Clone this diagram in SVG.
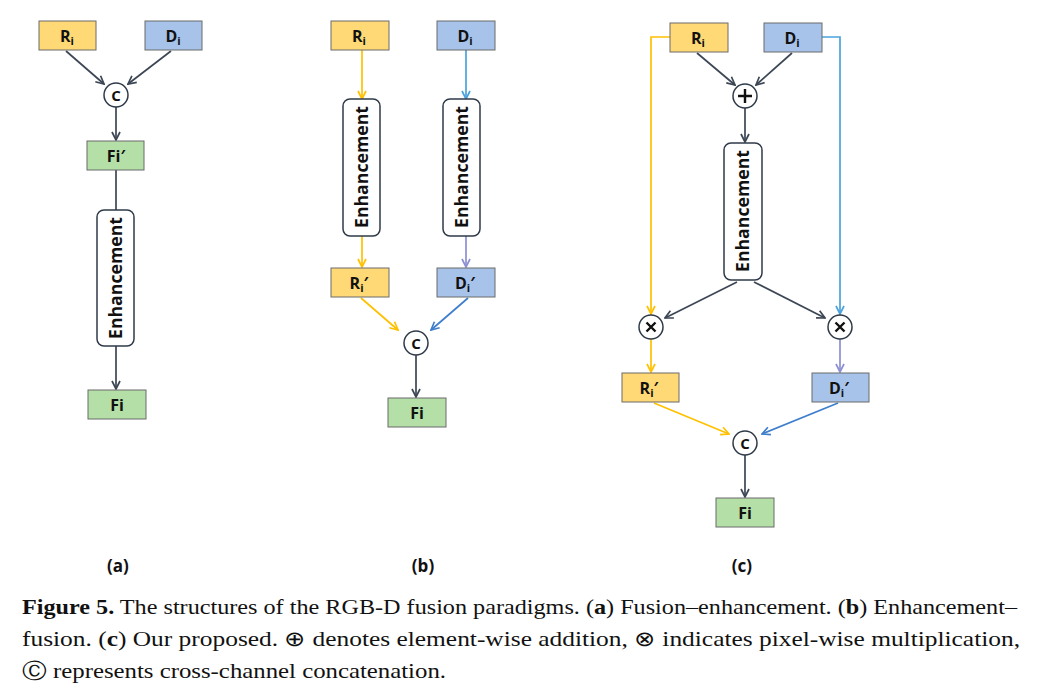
<svg xmlns="http://www.w3.org/2000/svg" width="1040" height="694" viewBox="0 0 1040 694">
<defs>
<marker id="ad" viewBox="0 0 10 10" refX="9" refY="5" markerWidth="10" markerHeight="10" markerUnits="userSpaceOnUse" orient="auto"><path d="M1,1 L9,5 L1,9" fill="none" stroke="#3c4654" stroke-width="1.7"/></marker>
<marker id="ay" viewBox="0 0 10 10" refX="9" refY="5" markerWidth="10" markerHeight="10" markerUnits="userSpaceOnUse" orient="auto"><path d="M1,1 L9,5 L1,9" fill="none" stroke="#ffc000" stroke-width="1.7"/></marker>
<marker id="ab" viewBox="0 0 10 10" refX="9" refY="5" markerWidth="10" markerHeight="10" markerUnits="userSpaceOnUse" orient="auto"><path d="M1,1 L9,5 L1,9" fill="none" stroke="#4aa3dc" stroke-width="1.7"/></marker>
<marker id="ab2" viewBox="0 0 10 10" refX="9" refY="5" markerWidth="10" markerHeight="10" markerUnits="userSpaceOnUse" orient="auto"><path d="M1,1 L9,5 L1,9" fill="none" stroke="#3f7ecb" stroke-width="1.7"/></marker>
<marker id="ap" viewBox="0 0 10 10" refX="9" refY="5" markerWidth="10" markerHeight="10" markerUnits="userSpaceOnUse" orient="auto"><path d="M1,1 L9,5 L1,9" fill="none" stroke="#8c8fd2" stroke-width="1.7"/></marker>
</defs>
<style>
.y{fill:#ffd975;stroke:#6b6b6b;stroke-width:1}
.b{fill:#a7c3ea;stroke:#6b6b6b;stroke-width:1}
.g{fill:#b4dfa7;stroke:#6b6b6b;stroke-width:1}
.e{fill:#fff;stroke:#2f3a48;stroke-width:1.5}
.c{fill:#fff;stroke:#2f3a48;stroke-width:1.5}
.t{font-family:"Open Sans","Liberation Sans",sans-serif;font-weight:bold;font-size:16px;fill:#111;text-anchor:middle}
.s{font-size:11px}
.et{font-family:"Open Sans","Liberation Sans",sans-serif;font-weight:bold;font-size:17px;fill:#111;text-anchor:middle}
.ct{font-family:"Open Sans","Liberation Sans",sans-serif;font-weight:bold;font-size:15px;fill:#111;text-anchor:middle}
.lab{font-family:"Open Sans","Liberation Sans",sans-serif;font-weight:bold;font-size:17px;fill:#111;text-anchor:middle}
.cap{font-family:"Liberation Serif",serif;font-size:21px;fill:#111}
.ld{fill:none;stroke:#3c4654;stroke-width:1.7}
.ly{fill:none;stroke:#ffc000;stroke-width:1.7}
.lb{fill:none;stroke:#4aa3dc;stroke-width:1.7}
.lb2{fill:none;stroke:#3f7ecb;stroke-width:1.7}
.lp{fill:none;stroke:#8c8fd2;stroke-width:1.7}
</style>
<rect width="1040" height="694" fill="#fff"/>

<g id="connectors">
<!-- (a) -->
<line class="ld" x1="66" y1="51" x2="104" y2="84" marker-end="url(#ad)"/>
<line class="ld" x1="171" y1="51" x2="128" y2="84" marker-end="url(#ad)"/>
<line class="ld" x1="116" y1="107" x2="116" y2="140" marker-end="url(#ad)"/>
<line class="ld" x1="116" y1="170" x2="116" y2="210"/>
<line class="ld" x1="116" y1="346" x2="116" y2="389" marker-end="url(#ad)"/>
<!-- (b) -->
<line class="ly" x1="362" y1="50" x2="362" y2="99" marker-end="url(#ay)"/>
<line class="lb" x1="466" y1="50" x2="466" y2="99" marker-end="url(#ab)"/>
<line class="ly" x1="362" y1="236" x2="362" y2="267" marker-end="url(#ay)"/>
<line class="lp" x1="466" y1="236" x2="466" y2="267" marker-end="url(#ap)"/>
<line class="ly" x1="361" y1="298" x2="398" y2="330" marker-end="url(#ay)"/>
<line class="lb2" x1="468" y1="298" x2="431" y2="330" marker-end="url(#ab2)"/>
<line class="ld" x1="416" y1="355" x2="416" y2="397" marker-end="url(#ad)"/>
<!-- (c) -->
<polyline class="ly" points="670,37 651,37 651,314" marker-end="url(#ay)"/>
<polyline class="lb" points="822,37 840,37 840,314" marker-end="url(#ab)"/>
<line class="ld" x1="697" y1="53" x2="735" y2="85" marker-end="url(#ad)"/>
<line class="ld" x1="792" y1="53" x2="756" y2="85" marker-end="url(#ad)"/>
<line class="ld" x1="745" y1="108" x2="745" y2="142" marker-end="url(#ad)"/>
<line class="ld" x1="737" y1="282" x2="665" y2="318" marker-end="url(#ad)"/>
<line class="ld" x1="754" y1="282" x2="825" y2="318" marker-end="url(#ad)"/>
<line class="ly" x1="651" y1="339" x2="651" y2="372" marker-end="url(#ay)"/>
<line class="lp" x1="840" y1="339" x2="840" y2="372" marker-end="url(#ap)"/>
<line class="ly" x1="654" y1="403" x2="729" y2="434" marker-end="url(#ay)"/>
<line class="lb2" x1="838" y1="403" x2="762" y2="434" marker-end="url(#ab2)"/>
<line class="ld" x1="745" y1="455" x2="745" y2="497" marker-end="url(#ad)"/>
</g>

<!-- (a) nodes -->
<g id="a_Ri"><rect class="y" x="39" y="21" width="57" height="29"/><text class="t" x="67" y="42">R<tspan class="s" dy="3">i</tspan></text></g>
<g id="a_Di"><rect class="b" x="145" y="21" width="57" height="29"/><text class="t" x="173" y="42">D<tspan class="s" dy="3">i</tspan></text></g>
<g id="a_C"><circle class="c" cx="116" cy="95" r="12"/><text class="ct" x="116" y="100.5">C</text></g>
<g id="a_Fip"><rect class="g" x="87" y="141" width="57" height="29"/><text class="t" x="116" y="162">Fi′</text></g>
<g id="a_Enh"><rect class="e" x="97" y="210" width="37" height="136" rx="7"/><text class="et" transform="translate(121.5,278) rotate(-90)" textLength="122" lengthAdjust="spacingAndGlyphs">Enhancement</text></g>
<g id="a_Fi"><rect class="g" x="88" y="390" width="58" height="29"/><text class="t" x="117" y="411">Fi</text></g>

<!-- (b) nodes -->
<g id="b_Ri"><rect class="y" x="331" y="21" width="58" height="29"/><text class="t" x="359" y="42">R<tspan class="s" dy="3">i</tspan></text></g>
<g id="b_Di"><rect class="b" x="437" y="21" width="58" height="29"/><text class="t" x="465" y="42">D<tspan class="s" dy="3">i</tspan></text></g>
<g id="b_Enh1"><rect class="e" x="343" y="99" width="37" height="137" rx="7"/><text class="et" transform="translate(367.5,167) rotate(-90)" textLength="122" lengthAdjust="spacingAndGlyphs">Enhancement</text></g>
<g id="b_Enh2"><rect class="e" x="443" y="99" width="37" height="137" rx="7"/><text class="et" transform="translate(467.5,167) rotate(-90)" textLength="122" lengthAdjust="spacingAndGlyphs">Enhancement</text></g>
<g id="b_Rip"><rect class="y" x="331" y="268" width="58" height="29"/><text class="t" x="359" y="289">R<tspan class="s" dy="3">i</tspan><tspan dy="-3">′</tspan></text></g>
<g id="b_Dip"><rect class="b" x="437" y="268" width="58" height="29"/><text class="t" x="465" y="289">D<tspan class="s" dy="3">i</tspan><tspan dy="-3">′</tspan></text></g>
<g id="b_C"><circle class="c" cx="416" cy="343" r="12"/><text class="ct" x="416" y="348.5">C</text></g>
<g id="b_Fi"><rect class="g" x="388" y="398" width="58" height="29"/><text class="t" x="417" y="419">Fi</text></g>

<!-- (c) nodes -->
<g id="c_Ri"><rect class="y" x="670" y="23" width="58" height="29"/><text class="t" x="698" y="44">R<tspan class="s" dy="3">i</tspan></text></g>
<g id="c_Di"><rect class="b" x="764" y="23" width="58" height="29"/><text class="t" x="792" y="44">D<tspan class="s" dy="3">i</tspan></text></g>
<g id="c_plus"><circle class="c" cx="745" cy="96" r="12"/><path d="M738,96 H752 M745,89 V103" stroke="#111" stroke-width="2.4"/></g>
<g id="c_Enh"><rect class="e" x="724" y="143" width="38" height="137" rx="7"/><text class="et" transform="translate(748.5,211) rotate(-90)" textLength="122" lengthAdjust="spacingAndGlyphs">Enhancement</text></g>
<g id="c_mulL"><circle class="c" cx="651" cy="327" r="12"/><path d="M646.5,322.5 L655.5,331.5 M655.5,322.5 L646.5,331.5" stroke="#111" stroke-width="2.4"/></g>
<g id="c_mulR"><circle class="c" cx="840" cy="327" r="12"/><path d="M835.5,322.5 L844.5,331.5 M844.5,322.5 L835.5,331.5" stroke="#111" stroke-width="2.4"/></g>
<g id="c_Rip"><rect class="y" x="622" y="373" width="57" height="29"/><text class="t" x="649" y="394">R<tspan class="s" dy="3">i</tspan><tspan dy="-3">′</tspan></text></g>
<g id="c_Dip"><rect class="b" x="812" y="373" width="57" height="29"/><text class="t" x="839" y="394">D<tspan class="s" dy="3">i</tspan><tspan dy="-3">′</tspan></text></g>
<g id="c_C"><circle class="c" cx="745" cy="443" r="12"/><text class="ct" x="745" y="448.5">C</text></g>
<g id="c_Fi"><rect class="g" x="716" y="498" width="58" height="29"/><text class="t" x="745" y="519">Fi</text></g>

<g id="labels">
<text class="lab" x="118" y="572">(a)</text>
<text class="lab" x="423" y="572">(b)</text>
<text class="lab" x="742" y="572">(c)</text>
</g>

<g id="caption">
<text class="cap" x="22" y="614" textLength="995" lengthAdjust="spacingAndGlyphs"><tspan font-weight="bold">Figure 5.</tspan> The structures of the RGB-D fusion paradigms. (<tspan font-weight="bold">a</tspan>) Fusion–enhancement. (<tspan font-weight="bold">b</tspan>) Enhancement–</text>
<text class="cap" x="22" y="646" textLength="998" lengthAdjust="spacingAndGlyphs">fusion. (<tspan font-weight="bold">c</tspan>) Our proposed. ⊕ denotes element-wise addition, ⊗ indicates pixel-wise multiplication,</text>
<text class="cap" x="22" y="678" textLength="424" lengthAdjust="spacingAndGlyphs">Ⓒ represents cross-channel concatenation.</text>
</g>
</svg>
